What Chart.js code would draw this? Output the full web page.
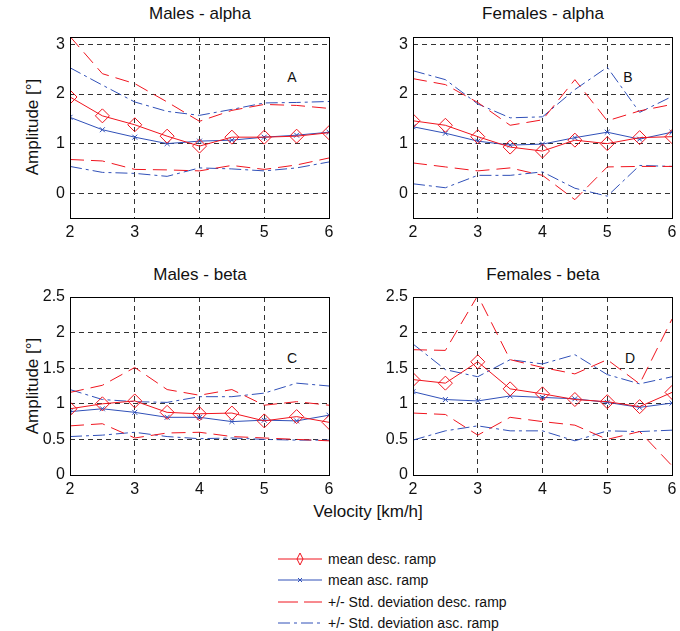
<!DOCTYPE html>
<html>
<head>
<meta charset="utf-8">
<script src="https://cdn.jsdelivr.net/npm/chart.js@4/dist/chart.umd.min.js"></script>
<style>
  body { margin: 0; background: #fff; width: 680px; height: 631px; position: relative; overflow: hidden;
         font-family: 'Liberation Sans', Arial, sans-serif; color: #111; }
  canvas { position: absolute; }
  .title { position: absolute; font-size: 17px; white-space: nowrap; transform: translate(-50%, -50%); }
  .ylab { position: absolute; font-size: 17px; white-space: nowrap; transform: translate(-50%, -50%) rotate(-90deg); }
  .tag { position: absolute; font-size: 14px; transform: translate(-50%, -50%); }
  .legend { position: absolute; left: 276px; top: 548px; font-size: 14px; }
  .legend .row { height: 21.5px; display: flex; align-items: center; white-space: nowrap; }
  .legend svg { margin-right: 4px; }
</style>
</head>
<body>

<div class="title" style="left:200px;top:14px">Males - alpha</div>
<div class="title" style="left:543px;top:14px">Females - alpha</div>
<div class="title" style="left:200px;top:275px">Males - beta</div>
<div class="title" style="left:543px;top:275px">Females - beta</div>
<div class="ylab" style="left:33px;top:127px">Amplitude [°]</div>
<div class="ylab" style="left:33px;top:386px">Amplitude [°]</div>
<div class="title" style="left:368px;top:512px">Velocity [km/h]</div>
<div class="tag" style="left:292px;top:77px">A</div>
<div class="tag" style="left:628px;top:77px">B</div>
<div class="tag" style="left:292px;top:358px">C</div>
<div class="tag" style="left:630px;top:358px">D</div>

<canvas id="pA" width="333" height="227" style="left:10px;top:25px"></canvas>
<canvas id="pB" width="327" height="227" style="left:353px;top:25px"></canvas>
<canvas id="pC" width="333" height="224" style="left:10px;top:285px"></canvas>
<canvas id="pD" width="327" height="224" style="left:353px;top:285px"></canvas>

<div class="legend">
  <div class="row"><svg width="48" height="14"><line x1="2" y1="7" x2="46" y2="7" stroke="#f0141e" stroke-width="1"/><polygon points="24,1 27,7 24,13 21,7" fill="none" stroke="#f0141e" stroke-width="1"/></svg>mean desc. ramp</div>
  <div class="row"><svg width="48" height="14"><line x1="2" y1="7" x2="46" y2="7" stroke="#3050b8" stroke-width="1"/><path d="M22,5 L26,9 M26,5 L22,9" stroke="#3050b8" stroke-width="1"/></svg>mean asc. ramp</div>
  <div class="row"><svg width="48" height="14"><line x1="2" y1="7" x2="46" y2="7" stroke="#f0141e" stroke-width="1" stroke-dasharray="20,6"/></svg>+/- Std. deviation desc. ramp</div>
  <div class="row"><svg width="48" height="14"><line x1="2" y1="7" x2="46" y2="7" stroke="#3050b8" stroke-width="1" stroke-dasharray="12,4,3,4"/></svg>+/- Std. deviation asc. ramp</div>
</div>

<script>
// Walking speeds (km/h)
const velocity = [2, 2.5, 3, 3.5, 4, 4.5, 5, 5.5, 6];

// Males - alpha
const maleAlphaMeanDesc = [1.94, 1.56, 1.38, 1.15, 0.95, 1.13, 1.13, 1.15, 1.22];
const maleAlphaMeanAsc  = [1.53, 1.28, 1.13, 1.00, 1.05, 1.07, 1.13, 1.17, 1.23];
const maleAlphaDescUp   = [3.16, 2.41, 2.21, 1.84, 1.45, 1.67, 1.79, 1.77, 1.71];
const maleAlphaDescLo   = [0.68, 0.65, 0.48, 0.47, 0.45, 0.56, 0.48, 0.57, 0.71];
const maleAlphaAscUp    = [2.53, 2.18, 1.84, 1.65, 1.57, 1.69, 1.82, 1.83, 1.85];
const maleAlphaAscLo    = [0.54, 0.42, 0.40, 0.34, 0.51, 0.49, 0.45, 0.51, 0.63];

// Females - alpha
const femAlphaMeanDesc = [1.46, 1.37, 1.14, 0.93, 0.85, 1.07, 1.00, 1.12, 1.14];
const femAlphaMeanAsc  = [1.34, 1.21, 1.05, 0.97, 0.99, 1.12, 1.23, 1.09, 1.23];
const femAlphaDescUp   = [2.31, 2.19, 1.83, 1.37, 1.48, 2.29, 1.46, 1.66, 1.79];
const femAlphaDescLo   = [0.61, 0.53, 0.45, 0.51, 0.36, -0.13, 0.53, 0.54, 0.54];
const femAlphaAscUp    = [2.47, 2.29, 1.80, 1.52, 1.54, 2.09, 2.54, 1.63, 1.95];
const femAlphaAscLo    = [0.19, 0.11, 0.36, 0.36, 0.43, 0.10, -0.06, 0.56, 0.54];

// Males - beta
const maleBetaMeanDesc = [0.93, 1.00, 1.04, 0.88, 0.86, 0.87, 0.76, 0.82, 0.74];
const maleBetaMeanAsc  = [0.89, 0.93, 0.88, 0.81, 0.81, 0.75, 0.77, 0.76, 0.84];
const maleBetaDescUp   = [1.16, 1.26, 1.51, 1.20, 1.12, 1.20, 0.98, 1.03, 0.98];
const maleBetaDescLo   = [0.69, 0.72, 0.52, 0.59, 0.60, 0.54, 0.52, 0.50, 0.48];
const maleBetaAscUp    = [1.20, 1.06, 1.03, 1.02, 1.10, 1.10, 1.15, 1.29, 1.25];
const maleBetaAscLo    = [0.54, 0.56, 0.60, 0.54, 0.51, 0.52, 0.50, 0.49, 0.49];

// Females - beta
const femBetaMeanDesc = [1.34, 1.29, 1.59, 1.21, 1.14, 1.06, 1.03, 0.96, 1.16];
const femBetaMeanAsc  = [1.17, 1.06, 1.04, 1.11, 1.09, 1.07, 1.02, 0.95, 1.01];
const femBetaDescUp   = [1.76, 1.75, 2.52, 1.62, 1.51, 1.42, 1.62, 1.28, 2.19];
const femBetaDescLo   = [0.87, 0.85, 0.56, 0.81, 0.75, 0.70, 0.50, 0.61, 0.13];
const femBetaAscUp    = [1.84, 1.48, 1.38, 1.62, 1.56, 1.69, 1.41, 1.28, 1.38];
const femBetaAscLo    = [0.49, 0.62, 0.69, 0.62, 0.62, 0.48, 0.62, 0.61, 0.63];

// Axis ticks
const xTicks = [2, 3, 4, 5, 6];
const alphaTicks = [0, 1, 2, 3];
const betaTicks = [0, 0.5, 1, 1.5, 2, 2.5];

const RED = '#f0141e';
const BLUE = '#3050b8';
const FONT = "'Liberation Sans', Arial, sans-serif";

const toPoints = ys => ys.map((y, i) => ({ x: velocity[i], y }));

// Black box around the plotting area
const boxPlugin = {
  id: 'axesBox',
  afterDraw(chart) {
    const { ctx, chartArea: a } = chart;
    ctx.save();
    ctx.strokeStyle = '#000';
    ctx.lineWidth = 1;
    ctx.setLineDash([]);
    ctx.strokeRect(Math.round(a.left) + 0.5, Math.round(a.top) + 0.5,
                   Math.round(a.right - a.left), Math.round(a.bottom - a.top));
    ctx.restore();
  }
};

function panel(id, s, yMin, yMax, yTicks, padRight) {
  const std = (data, color, dash) => ({
    data: toPoints(data), borderColor: color, borderWidth: 1, borderDash: dash,
    pointRadius: 0, fill: false, tension: 0
  });
  new Chart(document.getElementById(id), {
    type: 'line',
    data: {
      datasets: [
        { data: toPoints(s.meanDesc), borderColor: RED, borderWidth: 1, tension: 0,
          pointStyle: 'rectRot', pointRadius: 7, pointBorderColor: RED, pointBorderWidth: 1,
          pointBackgroundColor: 'rgba(0,0,0,0)' },
        { data: toPoints(s.meanAsc), borderColor: BLUE, borderWidth: 1, tension: 0,
          pointStyle: 'crossRot', pointRadius: 3.5, pointBorderColor: BLUE, pointBorderWidth: 1 },
        std(s.descUp, RED, [14, 7]),
        std(s.descLo, RED, [14, 7]),
        std(s.ascUp, BLUE, [12, 4, 3, 4]),
        std(s.ascLo, BLUE, [12, 4, 3, 4])
      ]
    },
    options: {
      responsive: false,
      animation: false,
      devicePixelRatio: 1,
      layout: { padding: { left: 0, top: 12, right: padRight, bottom: 0 } },
      plugins: { legend: { display: false }, tooltip: { enabled: false } },
      scales: {
        x: {
          type: 'linear', min: 2, max: 6,
          afterBuildTicks: sc => { sc.ticks = xTicks.map(v => ({ value: v })); },
          afterFit: sc => { sc.height = 34; sc.paddingLeft = 0; sc.paddingRight = 0; },
          ticks: { color: '#111', padding: 5, font: { family: FONT, size: 16 }, callback: v => String(v), maxRotation: 0 },
          grid: { color: '#333', lineWidth: 1, drawTicks: false },
          border: { display: false, dash: [5, 4] }
        },
        y: {
          type: 'linear', min: yMin, max: yMax,
          afterBuildTicks: sc => { sc.ticks = yTicks.map(v => ({ value: v })); },
          afterFit: sc => { sc.width = 60; sc.paddingTop = 0; sc.paddingBottom = 0; },
          ticks: { color: '#111', padding: 5, font: { family: FONT, size: 16 }, callback: v => String(v) },
          grid: { color: '#333', lineWidth: 1, drawTicks: false },
          border: { display: false, dash: [5, 4] }
        }
      }
    },
    plugins: [boxPlugin]
  });
}

panel('pA', { meanDesc: maleAlphaMeanDesc, meanAsc: maleAlphaMeanAsc, descUp: maleAlphaDescUp,
              descLo: maleAlphaDescLo, ascUp: maleAlphaAscUp, ascLo: maleAlphaAscLo },
      -0.5, 3.15, alphaTicks, 14);
panel('pB', { meanDesc: femAlphaMeanDesc, meanAsc: femAlphaMeanAsc, descUp: femAlphaDescUp,
              descLo: femAlphaDescLo, ascUp: femAlphaAscUp, ascLo: femAlphaAscLo },
      -0.5, 3.15, alphaTicks, 7);
panel('pC', { meanDesc: maleBetaMeanDesc, meanAsc: maleBetaMeanAsc, descUp: maleBetaDescUp,
              descLo: maleBetaDescLo, ascUp: maleBetaAscUp, ascLo: maleBetaAscLo },
      0, 2.5, betaTicks, 14);
panel('pD', { meanDesc: femBetaMeanDesc, meanAsc: femBetaMeanAsc, descUp: femBetaDescUp,
              descLo: femBetaDescLo, ascUp: femBetaAscUp, ascLo: femBetaAscLo },
      0, 2.5, betaTicks, 7);
</script>
</body>
</html>
